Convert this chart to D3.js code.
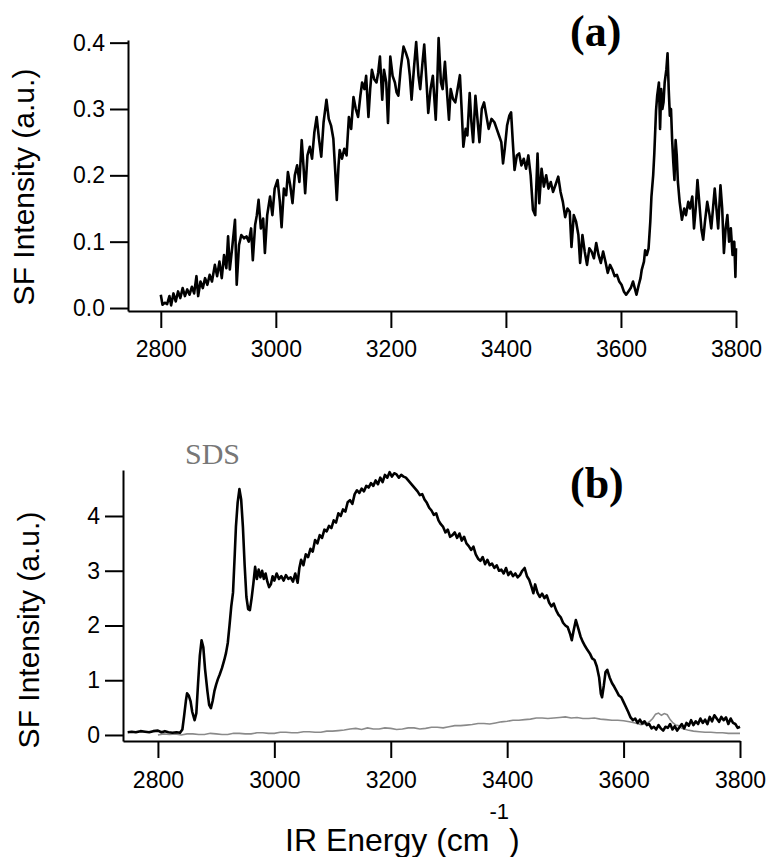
<!DOCTYPE html>
<html>
<head>
<meta charset="utf-8">
<script src="https://cdn.jsdelivr.net/npm/d3@7"></script>
<style>
  body { margin: 0; background: #fff; }
  svg { display: block; }
  .axis path, .axis line { stroke: #000; stroke-width: 2px; }
  .axis text { font-family: "Liberation Sans", Arial, sans-serif; font-size: 23px; fill: #000; }
</style>
</head>
<body>
<script>
// panel (a): wavenumber (cm-1), SF intensity
var spectrumA = [
  [2800,0.020],[2803,0.005],[2807,0.008],[2811,0.006],[2815,0.018],[2818,0.004],[2822,0.022],[2826,0.010],
  [2830,0.025],[2834,0.015],[2838,0.030],[2842,0.018],[2846,0.028],[2850,0.020],[2854,0.032],[2858,0.022],
  [2862,0.048],[2865,0.018],[2869,0.040],[2873,0.030],[2877,0.045],[2881,0.035],[2885,0.050],[2889,0.040],
  [2894,0.065],[2898,0.048],[2902,0.070],[2906,0.045],[2910,0.080],[2914,0.060],[2917,0.108],[2920,0.058],
  [2924,0.090],[2929,0.133],[2932,0.035],[2936,0.095],[2940,0.110],[2945,0.105],[2949,0.108],[2953,0.100],
  [2957,0.120],[2960,0.072],[2964,0.125],[2967,0.140],[2970,0.163],[2974,0.120],[2978,0.135],[2981,0.083],
  [2985,0.140],[2990,0.168],[2994,0.140],[2998,0.180],[3003,0.193],[3007,0.160],[3010,0.122],[3014,0.180],
  [3018,0.170],[3021,0.205],[3025,0.185],[3029,0.158],[3033,0.200],[3037,0.215],[3041,0.190],[3045,0.253],
  [3048,0.215],[3051,0.173],[3055,0.230],[3059,0.243],[3063,0.225],[3067,0.265],[3071,0.288],[3075,0.255],
  [3079,0.228],[3083,0.280],[3088,0.314],[3092,0.285],[3096,0.275],[3100,0.255],[3103,0.210],[3106,0.163],
  [3109,0.215],[3111,0.238],[3115,0.225],[3119,0.240],[3123,0.230],[3127,0.288],[3131,0.270],[3135,0.318],
  [3139,0.300],[3143,0.288],[3147,0.320],[3150,0.340],[3154,0.330],[3157,0.350],[3161,0.288],[3164,0.330],
  [3167,0.359],[3171,0.345],[3175,0.340],[3178,0.355],[3181,0.379],[3185,0.314],[3188,0.359],[3192,0.340],
  [3195,0.279],[3199,0.379],[3203,0.350],[3207,0.340],[3210,0.325],[3213,0.320],[3217,0.360],[3222,0.394],
  [3226,0.385],[3230,0.374],[3233,0.350],[3236,0.314],[3240,0.360],[3244,0.401],[3248,0.350],[3251,0.330],
  [3255,0.370],[3258,0.397],[3262,0.340],[3265,0.294],[3269,0.330],[3273,0.350],[3278,0.284],[3281,0.350],
  [3283,0.407],[3287,0.340],[3290,0.330],[3294,0.371],[3298,0.320],[3301,0.284],[3304,0.330],[3308,0.315],
  [3312,0.310],[3316,0.330],[3320,0.351],[3323,0.300],[3326,0.243],[3330,0.270],[3333,0.260],[3337,0.324],
  [3340,0.280],[3343,0.250],[3347,0.320],[3350,0.290],[3354,0.250],[3358,0.300],[3362,0.310],[3366,0.290],
  [3370,0.270],[3375,0.285],[3380,0.280],[3384,0.270],[3388,0.260],[3392,0.250],[3395,0.218],[3398,0.240],
  [3402,0.275],[3406,0.290],[3409,0.295],[3412,0.250],[3415,0.208],[3419,0.230],[3423,0.233],[3427,0.215],
  [3431,0.225],[3435,0.210],[3439,0.230],[3443,0.200],[3447,0.148],[3451,0.140],[3455,0.233],[3458,0.158],
  [3462,0.210],[3466,0.183],[3470,0.200],[3474,0.180],[3478,0.190],[3482,0.175],[3486,0.185],[3491,0.198],
  [3495,0.175],[3499,0.160],[3503,0.137],[3507,0.150],[3511,0.145],[3514,0.092],[3518,0.140],[3522,0.130],
  [3526,0.110],[3529,0.068],[3533,0.110],[3537,0.085],[3541,0.065],[3545,0.090],[3549,0.085],[3553,0.075],
  [3557,0.098],[3561,0.080],[3565,0.068],[3569,0.085],[3573,0.070],[3577,0.053],[3581,0.065],[3585,0.058],
  [3589,0.048],[3593,0.050],[3597,0.040],[3601,0.035],[3605,0.025],[3609,0.020],[3613,0.025],[3617,0.030],
  [3621,0.040],[3624,0.030],[3627,0.020],[3631,0.035],[3634,0.045],[3636,0.057],[3640,0.070],[3642,0.087],
  [3645,0.080],[3648,0.090],[3651,0.130],[3653,0.168],[3656,0.200],[3658,0.233],[3661,0.298],[3663,0.320],
  [3666,0.340],[3668,0.270],[3670,0.330],[3672,0.300],[3674,0.310],[3676,0.340],[3679,0.360],[3681,0.384],
  [3683,0.330],[3685,0.290],[3687,0.300],[3689,0.253],[3691,0.220],[3693,0.193],[3695,0.253],[3697,0.230],
  [3699,0.190],[3702,0.160],[3706,0.133],[3710,0.150],[3713,0.140],[3717,0.160],[3720,0.150],[3724,0.168],
  [3727,0.120],[3730,0.150],[3733,0.193],[3737,0.150],[3740,0.118],[3743,0.103],[3746,0.130],[3750,0.160],
  [3754,0.140],[3757,0.120],[3760,0.150],[3763,0.180],[3766,0.150],[3769,0.120],[3773,0.185],[3776,0.150],
  [3779,0.083],[3782,0.120],[3785,0.140],[3788,0.100],[3791,0.120],[3794,0.080],[3797,0.100],[3799,0.047],
  [3800,0.090]
];

// panel (b): black trace
var spectrumB = [
  [2748,0.05],[2755,0.06],[2762,0.05],[2770,0.07],[2778,0.06],[2785,0.05],[2792,0.07],[2800,0.08],
  [2806,0.05],[2812,0.07],[2818,0.05],[2825,0.04],[2832,0.05],[2838,0.04],[2842,0.10],[2845,0.35],
  [2848,0.62],[2850,0.76],[2853,0.72],[2856,0.62],[2859,0.42],[2863,0.27],[2866,0.40],[2869,0.95],
  [2872,1.45],[2875,1.73],[2878,1.60],[2881,1.20],[2885,0.80],[2888,0.55],[2891,0.49],[2894,0.62],
  [2897,0.80],[2900,0.92],[2903,1.02],[2906,1.10],[2910,1.22],[2914,1.37],[2917,1.50],[2920,1.68],
  [2923,2.00],[2926,2.35],[2929,2.60],[2932,3.30],[2934,3.80],[2937,4.25],[2940,4.49],[2943,4.30],
  [2946,3.80],[2949,3.10],[2952,2.52],[2955,2.30],[2958,2.28],[2961,2.50],[2964,2.77],[2967,3.07],
  [2970,2.85],[2973,3.02],[2976,2.88],[2979,3.00],[2982,2.85],[2985,2.95],[2988,2.80],[2991,2.70],
  [2994,2.75],[2997,2.90],[3000,2.82],[3004,2.95],[3008,2.85],[3012,2.90],[3016,2.82],[3020,2.92],
  [3024,2.85],[3028,2.88],[3032,2.80],[3036,2.95],[3040,2.78],[3043,3.05],[3046,3.20],[3050,3.10],
  [3054,3.30],[3058,3.25],[3062,3.40],[3066,3.35],[3070,3.56],[3074,3.50],[3078,3.65],[3082,3.60],
  [3086,3.75],[3090,3.72],[3094,3.82],[3098,3.78],[3102,3.92],[3106,3.88],[3110,4.05],[3114,4.00],
  [3118,4.12],[3122,4.08],[3126,4.25],[3130,4.29],[3134,4.22],[3138,4.40],[3142,4.47],[3146,4.42],
  [3150,4.50],[3154,4.45],[3158,4.55],[3162,4.52],[3166,4.60],[3170,4.55],[3174,4.65],[3178,4.58],
  [3182,4.70],[3186,4.62],[3190,4.75],[3194,4.70],[3198,4.80],[3202,4.72],[3206,4.78],[3210,4.76],
  [3214,4.70],[3218,4.75],[3222,4.72],[3226,4.70],[3230,4.65],[3234,4.60],[3238,4.55],[3242,4.50],
  [3246,4.45],[3250,4.38],[3254,4.40],[3258,4.30],[3262,4.24],[3266,4.15],[3270,4.10],[3274,4.02],
  [3278,4.05],[3282,3.92],[3286,3.85],[3290,3.80],[3294,3.70],[3298,3.75],[3302,3.62],[3306,3.65],
  [3310,3.70],[3314,3.60],[3318,3.68],[3322,3.55],[3326,3.62],[3330,3.50],[3334,3.45],[3338,3.38],
  [3342,3.44],[3346,3.30],[3350,3.22],[3354,3.18],[3358,3.25],[3362,3.12],[3366,3.20],[3370,3.10],
  [3374,3.13],[3378,3.05],[3382,3.10],[3386,3.00],[3390,3.02],[3394,2.95],[3398,3.05],[3402,2.92],
  [3406,2.98],[3410,2.90],[3414,2.95],[3418,2.88],[3422,2.92],[3426,3.00],[3430,3.05],[3434,2.90],
  [3438,2.83],[3442,2.70],[3445,2.59],[3448,2.75],[3452,2.60],[3456,2.52],[3460,2.58],[3464,2.50],
  [3468,2.55],[3472,2.42],[3476,2.35],[3480,2.40],[3484,2.28],[3488,2.20],[3492,2.15],[3496,2.05],
  [3500,2.00],[3504,1.97],[3508,1.85],[3511,1.73],[3514,1.90],[3518,2.10],[3522,1.95],[3526,1.80],
  [3530,1.70],[3534,1.62],[3538,1.55],[3542,1.49],[3546,1.40],[3550,1.37],[3554,1.25],[3558,1.05],
  [3561,0.75],[3563,0.69],[3566,0.90],[3569,1.15],[3572,1.19],[3576,1.05],[3580,0.95],[3584,0.88],
  [3588,0.80],[3592,0.72],[3596,0.69],[3600,0.60],[3604,0.51],[3608,0.42],[3612,0.32],[3616,0.27],
  [3620,0.30],[3624,0.22],[3628,0.28],[3632,0.21],[3636,0.25],[3640,0.18],[3644,0.20],[3648,0.12],
  [3652,0.15],[3656,0.10],[3660,0.18],[3664,0.12],[3668,0.08],[3672,0.15],[3676,0.13],[3680,0.20],
  [3684,0.10],[3688,0.16],[3692,0.08],[3696,0.14],[3700,0.20],[3704,0.12],[3708,0.22],[3712,0.17],
  [3716,0.27],[3720,0.18],[3724,0.25],[3728,0.20],[3732,0.30],[3736,0.22],[3740,0.28],[3744,0.20],
  [3748,0.33],[3752,0.25],[3756,0.36],[3760,0.30],[3764,0.24],[3768,0.33],[3772,0.27],[3776,0.32],
  [3780,0.20],[3784,0.30],[3788,0.22],[3792,0.20],[3796,0.13],[3800,0.15]
];

// panel (b): grey trace
var spectrumGrey = [
  [2800,0.00],[2810,0.02],[2820,0.01],[2830,0.02],[2840,0.00],[2850,0.02],[2860,0.02],[2870,0.01],
  [2880,0.01],[2890,0.03],[2900,0.02],[2910,0.01],[2920,0.01],[2930,0.03],[2940,0.03],[2950,0.02],
  [2960,0.02],[2970,0.04],[2980,0.04],[2990,0.03],[3000,0.03],[3010,0.05],[3020,0.05],[3030,0.04],
  [3040,0.04],[3050,0.06],[3060,0.06],[3070,0.05],[3080,0.05],[3090,0.07],[3100,0.07],[3110,0.08],
  [3120,0.09],[3130,0.11],[3140,0.12],[3150,0.10],[3160,0.13],[3170,0.11],[3180,0.11],[3190,0.13],
  [3200,0.12],[3210,0.10],[3220,0.11],[3230,0.13],[3240,0.13],[3250,0.11],[3260,0.12],[3270,0.14],
  [3280,0.14],[3290,0.13],[3300,0.15],[3310,0.17],[3320,0.17],[3330,0.18],[3340,0.19],[3350,0.21],
  [3360,0.21],[3370,0.20],[3380,0.22],[3390,0.24],[3400,0.25],[3410,0.27],[3420,0.27],[3430,0.28],
  [3440,0.29],[3450,0.31],[3460,0.31],[3470,0.30],[3480,0.31],[3490,0.32],[3500,0.33],[3510,0.31],
  [3520,0.32],[3530,0.30],[3540,0.30],[3550,0.31],[3560,0.29],[3570,0.28],[3580,0.27],[3590,0.27],
  [3600,0.26],[3610,0.24],[3620,0.22],[3630,0.19],[3640,0.21],[3645,0.25],[3650,0.30],[3655,0.38],
  [3660,0.40],[3665,0.36],[3670,0.39],[3675,0.37],[3680,0.28],[3685,0.22],[3690,0.18],[3695,0.17],
  [3700,0.12],[3710,0.09],[3720,0.07],[3730,0.06],[3740,0.05],[3750,0.05],[3760,0.04],[3770,0.04],
  [3780,0.03],[3790,0.03],[3800,0.03]
];

var xTicks = [2800, 3000, 3200, 3400, 3600, 3800],
    yTicksA = [0, 0.1, 0.2, 0.3, 0.4],
    yTicksB = [0, 1, 2, 3, 4];

(function() {

  var width = 770,
      height = 857;

  var lineColor = "#000",
      greyColor = "#8a8a8a";

  var svg = d3.select("body").append("svg")
      .attr("width", width)
      .attr("height", height);

  // scales, ranges
  var xA = d3.scaleLinear().domain([2743, 3800]).range([128, 736]),
      yA = d3.scaleLinear().domain([-0.0045, 0.404]).range([311, 40]);

  var xB = d3.scaleLinear().domain([2740, 3800]).range([123, 740]),
      yB = d3.scaleLinear().domain([-0.11, 4.84]).range([741, 470]);

  function drawAxes(x, y, yTicks, fmt, xPad) {
    svg.append("g")
        .attr("class", "axis")
        .attr("transform", "translate(0," + y.range()[0] + ")")
        .call(d3.axisBottom(x).tickValues(xTicks).tickFormat(d3.format("d"))
          .tickSizeInner(17).tickSizeOuter(0).tickPadding(xPad));

    svg.append("g")
        .attr("class", "axis")
        .attr("transform", "translate(" + x.range()[0] + ",0)")
        .call(d3.axisLeft(y).tickValues(yTicks).tickFormat(fmt)
          .tickSizeInner(18).tickSizeOuter(0).tickPadding(5));
  }

  drawAxes(xA, yA, yTicksA, d3.format(".1f"), 13);
  drawAxes(xB, yB, yTicksB, d3.format("d"), 14);

  var lineA = d3.line().x(function(d) { return xA(d[0]); }).y(function(d) { return yA(d[1]); }),
      lineB = d3.line().x(function(d) { return xB(d[0]); }).y(function(d) { return yB(d[1]); });

  svg.append("path")
      .datum(spectrumA)
      .attr("d", lineA)
      .attr("fill", "none")
      .attr("stroke", lineColor)
      .attr("stroke-width", 2.6)
      .attr("stroke-linejoin", "round");

  svg.append("path")
      .datum(spectrumGrey)
      .attr("d", lineB)
      .attr("fill", "none")
      .attr("stroke", greyColor)
      .attr("stroke-width", 1.6);

  svg.append("path")
      .datum(spectrumB)
      .attr("d", lineB)
      .attr("fill", "none")
      .attr("stroke", lineColor)
      .attr("stroke-width", 2.6)
      .attr("stroke-linejoin", "round");

  // axis titles
  var sans = "'Liberation Sans', Arial, sans-serif",
      serif = "'Liberation Serif', 'Times New Roman', serif";

  svg.append("text")
      .attr("transform", "translate(34,187) rotate(-90)")
      .attr("text-anchor", "middle")
      .style("font-family", sans)
      .style("font-size", "30px")
      .text("SF Intensity (a.u.)");

  svg.append("text")
      .attr("transform", "translate(39,630) rotate(-90)")
      .attr("text-anchor", "middle")
      .style("font-family", sans)
      .style("font-size", "30px")
      .text("SF Intensity (a.u.)");

  var xTitle = svg.append("text")
      .attr("x", 285)
      .attr("y", 851)
      .style("font-family", sans)
      .style("font-size", "32px");
  xTitle.append("tspan").text("IR Energy (cm");
  xTitle.append("tspan").attr("dy", -32).style("font-size", "22px").text("-1");
  xTitle.append("tspan").attr("dy", 32).text(")");

  // panel labels
  svg.append("text")
      .attr("x", 570).attr("y", 46)
      .style("font-family", serif)
      .style("font-weight", "bold")
      .style("font-size", "44px")
      .text("(a)");

  svg.append("text")
      .attr("x", 570).attr("y", 498)
      .style("font-family", serif)
      .style("font-weight", "bold")
      .style("font-size", "44px")
      .text("(b)");

  svg.append("text")
      .attr("x", 185).attr("y", 464)
      .style("font-family", serif)
      .style("font-size", "30px")
      .style("fill", "#777")
      .text("SDS");

})();
</script>
</body>
</html>
